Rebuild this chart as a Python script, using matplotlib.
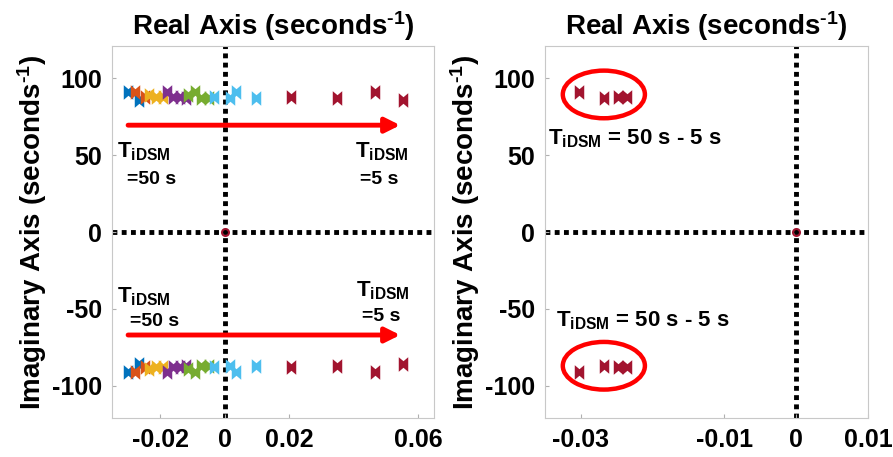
import matplotlib
matplotlib.use('Agg')
import matplotlib.pyplot as plt
from matplotlib.path import Path
from matplotlib.patches import Ellipse

plt.rcParams['font.family'] = 'Liberation Sans'
plt.rcParams['font.weight'] = 'bold'
plt.rcParams['axes.unicode_minus'] = False
plt.rcParams['mathtext.fontset'] = 'custom'
plt.rcParams['mathtext.rm'] = 'Liberation Sans:bold'
plt.rcParams['mathtext.bf'] = 'Liberation Sans:bold'
plt.rcParams['mathtext.it'] = 'Liberation Sans:bold'

# MATLAB default colour order
c_blue = (0.0, 0.447, 0.741)
c_orange = (0.85, 0.325, 0.098)
c_yellow = (0.929, 0.694, 0.125)
c_purple = (0.494, 0.184, 0.556)
c_green = (0.466, 0.674, 0.188)
c_cyan = (0.301, 0.745, 0.933)
c_red = (0.635, 0.078, 0.184)

# left panel poles (real, imag) for upper half; lower half are conjugates
blue_re = [-0.0300, -0.0266]
blue_im = [91, 86]
orange_re = [-0.0278, -0.0248]
orange_im = [91, 88]
yellow_re = [-0.0236, -0.0212, -0.0192]
yellow_im = [89, 88, 88]
purple_re = [-0.0180, -0.0160, -0.0138, -0.0120]
purple_im = [91, 88, 88, 87]
green_re = [-0.0113, -0.0093, -0.0075, -0.0050]
green_im = [89, 91, 87, 87]
cyan_re = [-0.0034, 0.0018, 0.0036, 0.0096]
cyan_im = [88, 87, 91, 87]
red_re = [0.0207, 0.0350, 0.0467, 0.0554]
red_im = [88, 87, 91, 86]
left_sets = [(blue_re, blue_im, c_blue), (orange_re, orange_im, c_orange),
             (yellow_re, yellow_im, c_yellow), (purple_re, purple_im, c_purple),
             (green_re, green_im, c_green), (cyan_re, cyan_im, c_cyan),
             (red_re, red_im, c_red)]

# right panel poles
right_re = [-0.0303, -0.0268, -0.0248, -0.0236]
right_im = [91, 87, 88, 88]

left_xticks = [-0.02, 0, 0.02, 0.06]
left_xlabels = ['-0.02', '0', '0.02', '0.06']
right_xticks = [-0.03, -0.01, 0, 0.01]
right_xlabels = ['-0.03', '-0.01', '0', '0.01']
yticks = [-100, -50, 0, 50, 100]

# bow-tie shaped pole marker
bow = Path([(-0.65, -1), (-0.65, 1), (0, 0.45), (0.65, 1), (0.65, -1), (0, -0.45), (-0.65, -1)],
           [Path.MOVETO] + [Path.LINETO] * 5 + [Path.CLOSEPOLY])
msize = 110

fig = plt.figure(figsize=(8.93, 4.57), dpi=100)
ax1 = fig.add_axes([0.1254, 0.0853, 0.3606, 0.8140])
ax2 = fig.add_axes([0.6103, 0.0853, 0.3617, 0.8140])

def style(ax, xlim, xticks, xlabels):
    ax.set_xlim(xlim)
    ax.set_ylim(-121, 121)
    ax.set_xticks(xticks)
    ax.set_xticklabels(xlabels)
    ax.set_yticks(yticks)
    ax.tick_params(direction='in', length=3, color='#b0b0b0', labelsize=18, pad=7)
    for s in ax.spines.values():
        s.set_color('#c8c8c8')
    ax.axhline(0, color='black', lw=3.5, dashes=(1, 0.9), zorder=1)
    ax.axvline(0, color='black', lw=3.5, dashes=(1, 0.9), zorder=1)
    ax.plot([0], [0], 'o', mfc='none', mec=c_red, ms=5, mew=1.5, zorder=3)
    ax.set_title(r'Real Axis (seconds$^{\text{-1}}$)', fontsize=20, fontweight='bold', pad=8)
    ax.set_ylabel(r'Imaginary Axis (seconds$^{\text{-1}}$)', fontsize=20, fontweight='bold', labelpad=2)

style(ax1, (-0.035, 0.065), left_xticks, left_xlabels)
style(ax2, (-0.035, 0.01), right_xticks, right_xlabels)

for re, im, col in left_sets:
    ax1.scatter(re, im, marker=bow, s=msize, color=col, zorder=4, linewidths=0)
    ax1.scatter(re, [-v for v in im], marker=bow, s=msize, color=col, zorder=4, linewidths=0)

ax2.scatter(right_re, right_im, marker=bow, s=msize, color=c_red, zorder=4, linewidths=0)
ax2.scatter(right_re, [-v for v in right_im], marker=bow, s=msize, color=c_red, zorder=4, linewidths=0)

# arrows on the left panel
for yy in (69.5, -67):
    ax1.annotate('', xy=(0.0545, yy), xytext=(-0.0300, yy),
                 arrowprops=dict(arrowstyle='-|>', color='red', lw=3.5,
                                 mutation_scale=22, shrinkA=0, shrinkB=0), zorder=5)

tlab = r'T$_{\mathregular{iDSM}}$'
ax1.text(-0.0333, 52, tlab, fontsize=16, va='center', ha='left')
ax1.text(-0.0302, 34, '=50 s', fontsize=14, va='center', ha='left')
ax1.text(0.0405, 52, tlab, fontsize=16, va='center', ha='left')
ax1.text(0.0420, 34, '=5 s', fontsize=14, va='center', ha='left')
ax1.text(-0.0333, -42, tlab, fontsize=16, va='center', ha='left')
ax1.text(-0.0293, -58, '=50 s', fontsize=14, va='center', ha='left')
ax1.text(0.0408, -38, tlab, fontsize=16, va='center', ha='left')
ax1.text(0.0425, -55, '=5 s', fontsize=14, va='center', ha='left')

ax2.text(-0.0346, 61, tlab + ' = 50 s - 5 s', fontsize=16, va='center', ha='left')
ax2.text(-0.0335, -58, tlab + ' = 50 s - 5 s', fontsize=16, va='center', ha='left')

for yc in (89.5, -87):
    ax2.add_patch(Ellipse((-0.0268, yc), 0.01144, 31, fill=False, ec='red', lw=3.2, zorder=5))

fig.savefig('out.png', dpi=100)
